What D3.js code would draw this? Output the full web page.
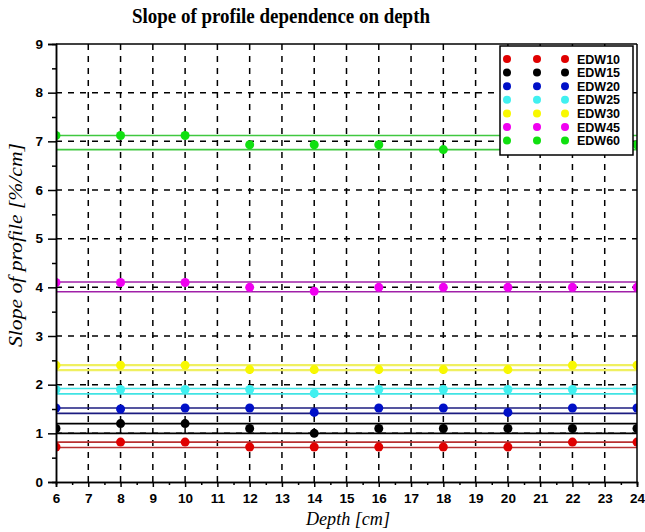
<!DOCTYPE html>
<html>
<head>
<meta charset="utf-8">
<script src="https://cdn.jsdelivr.net/npm/d3@7"></script>
<style>
  body { margin: 0; background: #fff; }
  svg { display: block; }
</style>
</head>
<body>
<svg width="645" height="532"></svg>
<script>
// depths where the slope was measured
const depths = [6, 8, 10, 12, 14, 16, 18, 20, 22, 24];

const seriesNames = ["EDW10", "EDW15", "EDW20", "EDW25", "EDW30", "EDW45", "EDW60"];

// measured slope values [%/cm] per series
const edw10 = [0.72, 0.82, 0.82, 0.72, 0.72, 0.72, 0.72, 0.72, 0.82, 0.82];
const edw15 = [1.10, 1.20, 1.20, 1.10, 1.00, 1.10, 1.10, 1.10, 1.10, 1.10];
const edw20 = [1.52, 1.50, 1.52, 1.52, 1.43, 1.52, 1.52, 1.43, 1.52, 1.52];
const edw25 = [1.90, 1.90, 1.90, 1.90, 1.82, 1.90, 1.90, 1.90, 1.90, 1.90];
const edw30 = [2.40, 2.40, 2.40, 2.31, 2.31, 2.31, 2.31, 2.31, 2.40, 2.40];
const edw45 = [4.10, 4.10, 4.10, 4.00, 3.92, 4.00, 4.00, 4.00, 4.00, 4.00];
const edw60 = [7.12, 7.12, 7.12, 6.93, 6.93, 6.93, 6.83, 6.93, 6.93, 6.93];

// tolerance band (upper / lower) for each series
const upperBound = [0.82, 1.20, 1.52, 1.92, 2.40, 4.11, 7.12];
const lowerBound = [0.71, 1.00, 1.41, 1.81, 2.30, 3.91, 6.83];

const pointColors = ["#e00000", "#000000", "#0010c8", "#40f0f0", "#f8f800", "#f000f0", "#10e010"];
const lineColors  = ["#b83030", "#000000", "#1c1c80", "#40e4e4", "#f0f060", "#a020a8", "#40c840"];

const xTicks = d3.range(6, 25);
const yTicks = d3.range(0, 10);

const allValues = [edw10, edw15, edw20, edw25, edw30, edw45, edw60];

const svg = d3.select("svg");
const margin = { left: 56, right: 8, top: 44, bottom: 50 };
const W = 645, H = 532;

const x = d3.scaleLinear().domain([6, 24]).range([margin.left, W - margin.right]);
const y = d3.scaleLinear().domain([0, 9]).range([H - margin.bottom, margin.top]);

// clip marks to plot area
svg.append("clipPath").attr("id", "plotClip")
    .append("rect")
    .attr("x", x(6)).attr("y", y(9))
    .attr("width", x(24) - x(6)).attr("height", y(0) - y(9));

// dashed grid
const grid = svg.append("g");
grid.selectAll(".vg").data(d3.range(7, 24)).join("line")
    .attr("x1", d => x(d)).attr("x2", d => x(d))
    .attr("y1", y(9)).attr("y2", y(0))
    .attr("stroke", "#000").attr("stroke-width", 1.5)
    .attr("stroke-dasharray", "6,6");
grid.selectAll(".hg").data(d3.range(1, 9)).join("line")
    .attr("x1", x(6)).attr("x2", x(24))
    .attr("y1", d => y(d)).attr("y2", d => y(d))
    .attr("stroke", "#000").attr("stroke-width", 1.5)
    .attr("stroke-dasharray", "6,6");

const plot = svg.append("g").attr("clip-path", "url(#plotClip)");

// band lines
seriesNames.forEach((name, i) => {
    [upperBound[i], lowerBound[i]].forEach(v => {
        plot.append("line")
            .attr("x1", x(6)).attr("x2", x(24))
            .attr("y1", y(v)).attr("y2", y(v))
            .attr("stroke", lineColors[i])
            .attr("stroke-width", i === 4 ? 2.2 : 1.6);
    });
});

// points
seriesNames.forEach((name, i) => {
    plot.selectAll(".p" + i)
        .data(depths.map((d, k) => [d, allValues[i][k]]))
        .join("circle")
        .attr("cx", d => x(d[0]))
        .attr("cy", d => y(d[1]))
        .attr("r", 4.5)
        .attr("fill", pointColors[i]);
});

// axes
svg.append("g").attr("transform", `translate(0,${y(0)})`)
    .call(d3.axisBottom(x).tickValues(xTicks).tickFormat(d3.format("d")).tickSize(5).tickPadding(6));
svg.append("g").attr("transform", `translate(${x(6)},0)`)
    .call(d3.axisLeft(y).tickValues(yTicks).tickFormat(d3.format("d")).tickSize(8).tickPadding(5));

// minor ticks
svg.append("g").attr("transform", `translate(0,${y(0)})`)
    .call(d3.axisBottom(x).tickValues(d3.range(6.5, 24, 1)).tickFormat("").tickSize(3));
svg.append("g").attr("transform", `translate(${x(6)},0)`)
    .call(d3.axisLeft(y).tickValues(d3.range(0.5, 9, 1)).tickFormat("").tickSize(4));

svg.selectAll(".domain").attr("stroke", "#000").attr("stroke-width", 1.5);
svg.selectAll(".tick line").attr("stroke", "#000").attr("stroke-width", 1.5);
svg.selectAll(".tick text")
    .attr("font-family", "Liberation Sans, Arial, sans-serif")
    .attr("font-size", 13.5).attr("font-weight", "bold").attr("fill", "#000");

// top and right frame
svg.append("line").attr("x1", x(6)).attr("x2", x(24)).attr("y1", y(9)).attr("y2", y(9))
    .attr("stroke", "#000").attr("stroke-width", 1.5);
svg.append("line").attr("x1", x(24)).attr("x2", x(24)).attr("y1", y(9)).attr("y2", y(0))
    .attr("stroke", "#000").attr("stroke-width", 1.5);

// title and axis labels
svg.append("text")
    .attr("x", 281).attr("y", 23)
    .attr("text-anchor", "middle")
    .attr("font-family", "Liberation Serif, Times New Roman, serif")
    .attr("font-weight", "bold").attr("font-size", 20)
    .attr("textLength", 298).attr("lengthAdjust", "spacingAndGlyphs")
    .text("Slope of profile dependence on depth");

svg.append("text")
    .attr("x", 348).attr("y", 525)
    .attr("text-anchor", "middle")
    .attr("font-family", "Liberation Serif, Times New Roman, serif")
    .attr("font-style", "italic").attr("font-size", 18)
    .attr("textLength", 84).attr("lengthAdjust", "spacingAndGlyphs")
    .text("Depth [cm]");

svg.append("text")
    .attr("transform", "translate(22,245) rotate(-90)")
    .attr("text-anchor", "middle")
    .attr("font-family", "Liberation Serif, Times New Roman, serif")
    .attr("font-style", "italic").attr("font-size", 18)
    .attr("textLength", 204).attr("lengthAdjust", "spacingAndGlyphs")
    .text("Slope of profile [%/cm]");

// legend
const legend = svg.append("g").attr("transform", "translate(500,46)");
legend.append("rect")
    .attr("width", 133).attr("height", 109)
    .attr("fill", "#fff").attr("stroke", "#000").attr("stroke-width", 1.5);
seriesNames.forEach((name, i) => {
    const row = legend.append("g").attr("transform", `translate(0,${13 + i * 13.6})`);
    [7, 37, 65].forEach(cx => {
        row.append("circle").attr("cx", cx).attr("cy", 0).attr("r", 4).attr("fill", pointColors[i]);
    });
    row.append("text")
        .attr("x", 77).attr("y", 4.5)
        .attr("font-family", "Liberation Sans, Arial, sans-serif")
        .attr("font-weight", "bold").attr("font-size", 12.5)
        .text(name);
});
</script>
</body>
</html>
